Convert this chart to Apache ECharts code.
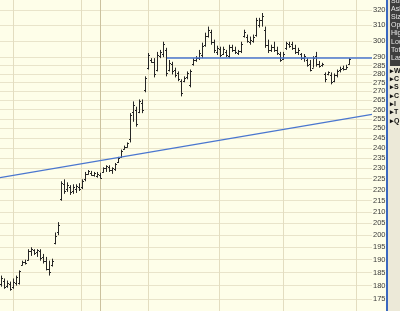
<!DOCTYPE html>
<html><head><meta charset="utf-8">
<script src="https://cdn.jsdelivr.net/npm/echarts@6/dist/echarts.min.js"></script>
<style>html,body{margin:0;padding:0;background:#fefee9}#c{width:400px;height:311px}</style>
</head><body><div id="c"></div>
<script>
const openP=[180.75,181.9,180.0,180.75,179.6,181.1,181.1,188.1,189.2,190.0,
193.5,193.8,193.1,193.5,191.1,189.6,186.5,188.1,196.9,201.5,
215.8,222.4,220.2,221.1,219.3,220.2,221.1,221.1,224.7,227.3,
227.8,226.9,226.4,226.9,228.2,230.0,230.4,229.1,229.5,233.0,
235.5,239.6,240.6,244.2,258.5,259.5,258.5,263.8,270.6,283.7,
288.3,287.2,282.6,290.6,291.9,294.4,282.6,286.0,282.6,280.3,
275.8,275.8,278.0,273.5,286.0,288.3,289.4,291.3,297.6,303.3,
305.9,299.5,293.2,295.1,291.9,293.2,290.6,296.4,294.4,292.5,
293.8,303.3,302.7,299.5,300.2,304.0,310.4,313.5,307.1,297.6,
294.4,296.4,294.4,291.9,288.9,295.7,298.3,298.3,295.7,293.2,
291.9,289.4,288.3,286.0,283.7,290.6,286.0,285.4,279.7,279.7,
279.2,275.8,279.2,282.6,283.7,283.2,286.0];
const highP=[183.8,182.7,181.9,181.5,182.7,183.8,185.8,189.6,190.0,194.2,
195.0,194.2,194.2,194.2,192.3,191.1,189.6,190.4,201.1,205.5,
223.8,224.7,223.3,222.0,222.4,222.4,222.9,224.7,228.2,229.1,
228.7,228.2,228.2,227.8,230.4,231.4,231.4,230.4,232.5,235.5,
239.1,241.1,242.7,258.0,264.4,261.5,265.5,265.5,278.6,292.5,
289.4,289.4,293.2,294.4,299.5,295.7,288.3,287.2,283.7,281.5,
276.9,278.6,281.5,282.6,289.4,290.6,294.4,298.9,305.2,309.1,
307.1,300.8,297.0,296.4,296.4,294.4,297.6,297.6,296.4,294.4,
299.5,307.1,304.0,302.7,304.0,314.8,314.8,318.0,309.1,300.8,
297.6,299.5,296.4,293.2,293.2,299.5,299.5,299.5,297.6,295.7,
292.5,291.9,289.4,288.3,290.6,293.2,287.7,286.6,280.9,281.5,
280.9,280.3,282.6,284.3,284.9,285.4,289.4];
const lowP=[179.6,178.8,179.2,178.1,178.8,180.0,180.4,187.7,188.1,189.6,
191.5,191.9,191.1,189.6,188.5,185.8,183.8,187.3,196.2,200.0,
214.9,218.0,218.9,217.5,218.0,218.4,219.3,220.2,223.8,226.9,
226.4,226.0,225.5,225.1,227.8,228.2,228.2,227.3,228.7,232.5,
235.0,239.1,240.1,242.7,253.4,250.8,258.0,258.0,269.5,282.6,
286.6,278.0,281.5,289.4,290.0,278.6,281.5,279.7,278.0,275.8,
267.2,275.2,276.9,272.3,284.9,287.2,288.3,289.4,296.4,302.1,
297.6,292.5,291.3,290.0,291.3,290.0,289.4,293.2,291.9,291.3,
292.5,302.1,298.9,297.6,298.9,302.7,308.5,309.1,295.7,292.5,
293.2,293.2,291.3,287.2,288.3,294.4,295.7,294.4,291.9,291.3,
288.3,287.2,284.3,281.5,283.7,284.3,283.7,284.3,275.2,279.2,
274.0,275.2,278.0,280.9,282.0,282.6,285.4];
const closeP=[182.7,179.6,181.1,178.8,181.5,183.1,185.4,189.2,188.8,193.5,
194.2,192.7,193.8,190.8,189.6,186.5,185.0,189.6,199.6,204.2,
222.9,219.3,222.0,218.9,221.1,221.5,220.2,223.8,227.3,228.7,
226.9,227.8,227.3,225.5,229.9,230.9,229.1,229.9,232.0,235.0,
238.6,240.6,242.2,256.9,262.6,252.3,264.4,259.5,277.5,291.3,
287.2,279.7,291.3,293.2,298.3,280.3,286.6,281.5,279.2,276.9,
268.9,277.5,280.3,281.5,288.3,289.4,292.5,297.0,303.3,307.1,
299.5,294.4,295.7,291.3,295.1,291.3,296.4,294.4,293.2,293.8,
298.3,305.9,300.2,300.8,302.7,313.5,313.5,316.0,297.6,294.4,
296.4,294.4,292.5,288.3,291.9,298.9,297.0,295.7,293.2,294.4,
289.4,290.6,285.4,282.6,289.4,286.0,284.9,286.0,276.9,280.9,
275.2,279.2,282.0,283.2,283.2,284.3,288.9];
const tickLabels=[175,180,185,190,195,200,205,210,215,220,225,230,235,240,245,250,255,260,265,270,275,280,285,290,300,310,320];
const resistanceLevel=289.5, resistanceFromBar=55.3;
const trendStartPrice=225.5, trendEndPrice=257.4;
const monthBreaks=[4,26.67,33,49,72.67,94,118.33];

const X0=-0.333, X1=123.667;
const L=Math.log;
const ohlc=openP.map((o,i)=>[i,L(o),L(highP[i]),L(lowP[i]),L(closeP[i])]);
const blue='#4a76cf';
const chart=echarts.init(document.getElementById('c'),null,{renderer:'canvas'});
chart.setOption({
  backgroundColor:'#fefee9',
  animation:false,
  grid:{left:0,right:28,top:0,bottom:0},
  xAxis:{type:'value',min:X0,max:X1,
    axisLine:{show:false},axisLabel:{show:false},
    axisTick:{show:false,customValues:monthBreaks},
    splitLine:{show:true,lineStyle:{width:1,color:['#e3ddc0','#e3ddc0','#cbc19e','#e3ddc0','#e3ddc0','#e3ddc0','#e3ddc0']}}},
  yAxis:{type:'value',position:'right',min:L(170.7),max:L(326.75),
    axisLine:{show:false},
    axisTick:{show:false,customValues:tickLabels.map(L)},
    axisLabel:{customValues:tickLabels.map(L),formatter:v=>String(Math.round(Math.exp(v))),
      margin:1,fontSize:7.5,color:'#3a3a3a',fontFamily:'Liberation Sans'},
    splitLine:{show:true,lineStyle:{color:'#e9e4ca',width:1}}},
  series:[
    {type:'custom',data:ohlc,clip:true,
     renderItem:function(p,api){
       const i=api.value(0);
       const o=api.coord([i,api.value(1)]),h=api.coord([i,api.value(2)]),
             l=api.coord([i,api.value(3)]),c=api.coord([i,api.value(4)]);
       const x=Math.round(h[0])+0.5;
       const st={stroke:'#262626',lineWidth:1};
       return {type:'group',children:[
         {type:'line',shape:{x1:x,y1:h[1],x2:x,y2:l[1]},style:st},
         {type:'line',shape:{x1:x-1.5,y1:Math.round(o[1])+0.5,x2:x,y2:Math.round(o[1])+0.5},style:st},
         {type:'line',shape:{x1:x,y1:Math.round(c[1])+0.5,x2:x+1.5,y2:Math.round(c[1])+0.5},style:st}
       ]};
     }},
    {type:'line',data:[[X0,L(trendStartPrice)],[X1,L(trendEndPrice)]],symbol:'none',
     lineStyle:{color:blue,width:1.3},silent:true},
    {type:'line',data:[[resistanceFromBar,L(resistanceLevel)],[X1,L(resistanceLevel)]],symbol:'none',
     lineStyle:{color:blue,width:1.5},silent:true}
  ],
  graphic:(function(){
    const g=[
      {type:'rect',shape:{x:386,y:0,width:2,height:311},style:{fill:'#3a68c0'}},
      {type:'rect',shape:{x:388,y:0,width:12,height:311},style:{fill:'#ece9d8'}},
      {type:'rect',shape:{x:390,y:0,width:10,height:66},style:{fill:'#3e3e3e'}}
    ];
    const info=['Sub','Ask','Size','Open','High','Low','Tot','Last'];
    const infoY=[1,9,17,25,33,42,50,58];
    info.forEach((t,k)=>g.push({type:'text',x:391,y:infoY[k],style:{text:t,fill:'#e8e8e8',font:'7px Liberation Sans',textVerticalAlign:'middle'}}));
    const menu=['W','C','S','C','I','T','Q'];
    const menuY=[71,79,87,96,104,112,121];
    menu.forEach((t,k)=>g.push({type:'text',x:390,y:menuY[k],style:{text:'\u25B8'+t,fill:'#111',font:'bold 7px Liberation Sans',textVerticalAlign:'middle'}}));
    return g;
  })()
});
</script></body></html>
